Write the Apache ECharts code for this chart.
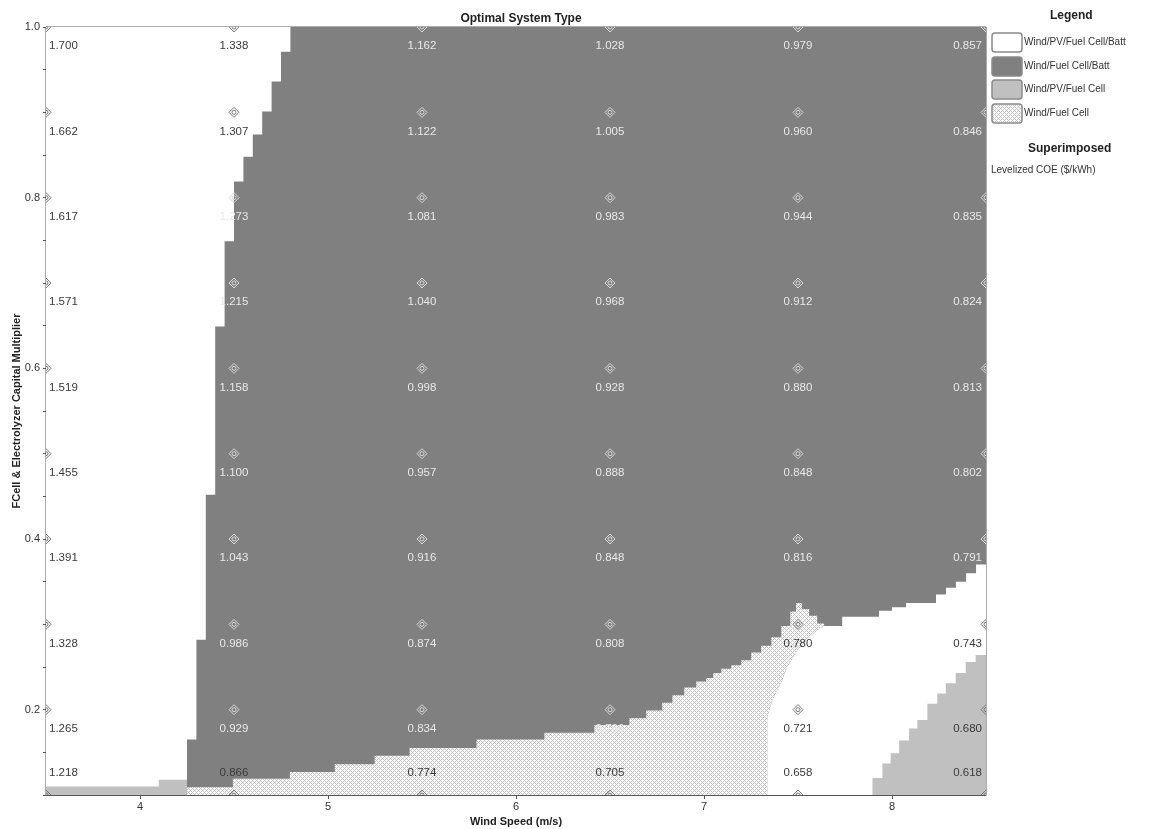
<!DOCTYPE html>
<html><head><meta charset="utf-8">
<script src="https://cdn.jsdelivr.net/npm/echarts@6/dist/echarts.min.js"></script>
<style>html,body{margin:0;padding:0;background:#fff}#c{width:1156px;height:829px}</style>
</head><body><div id="c"></div>
<script>
// ---------------- DATA ----------------
const windSpeeds = [3.5, 4.5, 5.5, 6.5, 7.5, 8.5];
const multipliers = [1.0, 0.9, 0.8, 0.7, 0.6, 0.5, 0.4, 0.3, 0.2, 0.1];
const xTickValues = [4, 5, 6, 7, 8];
const yLabelValues = [0.2, 0.4, 0.6, 0.8, 1.0];
const yTickValues = [0.1,0.15,0.2,0.25,0.3,0.35,0.4,0.45,0.5,0.55,0.6,0.65,0.7,0.75,0.8,0.85,0.9,0.95,1.0];

// Levelized COE ($/kWh) per wind speed column, multiplier 1.0 -> 0.1
const coe_3_5 = [1.700,1.662,1.617,1.571,1.519,1.455,1.391,1.328,1.265,1.218];
const coe_4_5 = [1.338,1.307,1.273,1.215,1.158,1.100,1.043,0.986,0.929,0.866];
const coe_5_5 = [1.162,1.122,1.081,1.040,0.998,0.957,0.916,0.874,0.834,0.774];
const coe_6_5 = [1.028,1.005,0.983,0.968,0.928,0.888,0.848,0.808,0.766,0.705];
const coe_7_5 = [0.979,0.960,0.944,0.912,0.880,0.848,0.816,0.780,0.721,0.658];
const coe_8_5 = [0.857,0.846,0.835,0.824,0.813,0.802,0.791,0.743,0.680,0.618];
// optimal type at each grid point (W = Wind/PV/FC/Batt, D = Wind/FC/Batt, L = Wind/PV/FC, H = Wind/FC)
const typeAtPoint = ['WWWWWWWWWW','WWDDDDDDDH','DDDDDDDDDH','DDDDDDDDDH','DDDDDDDHWW','DDDDDDDWLL'];

// Boundaries of the optimal-system-type regions
// left Wind/PV/FC/Batt region: [multiplier from, multiplier to, wind speed edge]
const leftWhiteEdge = [
  [0.100,0.165,4.25],[0.165,0.282,4.30],[0.282,0.452,4.35],[0.452,0.649,4.40],
  [0.649,0.749,4.45],[0.749,0.819,4.50],[0.819,0.848,4.55],[0.848,0.874,4.60],
  [0.874,0.901,4.65],[0.901,0.936,4.70],[0.936,0.971,4.75],[0.971,1.000,4.80]];
// bottom-left Wind/PV/FC strip: [wind from, top multiplier]
const leftLightSteps = [[3.5,0.110],[4.10,0.118]];
const leftLightEnd = 4.25;
// Wind/FC (hatched) region top: [wind from, top multiplier]
const fcTopSteps = [
  [4.250,0.109],[4.494,0.119],[4.797,0.127],[5.036,0.136],[5.248,0.146],[5.434,0.155],
  [5.790,0.165],[6.151,0.173],[6.417,0.182],[6.603,0.190],[6.693,0.199],[6.778,0.208],
  [6.832,0.217],[6.895,0.226],[6.959,0.233],[7.012,0.237],[7.049,0.243],[7.092,0.248],
  [7.145,0.252],[7.198,0.258],[7.251,0.267],[7.304,0.275],[7.358,0.285],[7.411,0.298],
  [7.459,0.315],[7.490,0.325],[7.522,0.318],[7.559,0.310],[7.602,0.301]];
const fcTopEnd = 7.639;
// Wind/FC right edge (top -> bottom): [wind, multiplier]
const fcRightEdge = [
  [7.639,0.299],[7.602,0.293],[7.559,0.285],[7.522,0.276],[7.490,0.268],[7.464,0.258],
  [7.443,0.250],[7.416,0.235],[7.389,0.223],[7.363,0.211],[7.347,0.200],[7.336,0.191],[7.336,0.100]];
// right Wind/PV/FC/Batt region top: [wind from, wind to, multiplier]
const rightWhiteTop = [
  [7.639,7.735,0.298],[7.735,7.931,0.309],[7.931,8.000,0.316],[8.000,8.075,0.320],
  [8.075,8.234,0.325],[8.234,8.287,0.335],[8.287,8.340,0.343],[8.340,8.394,0.350],
  [8.394,8.447,0.360],[8.447,8.500,0.370]];
// right Wind/PV/FC region top: [wind from, top multiplier]
const rightLightSteps = [
  [7.896,0.120],[7.949,0.137],[7.993,0.149],[8.038,0.164],[8.091,0.178],[8.135,0.188],
  [8.188,0.207],[8.241,0.219],[8.286,0.231],[8.339,0.243],[8.392,0.256],[8.445,0.264]];

const legendNames = ['Wind/PV/Fuel Cell/Batt','Wind/Fuel Cell/Batt','Wind/PV/Fuel Cell','Wind/Fuel Cell'];

// ---------------- BUILD ----------------
const X0 = 3.5, X1 = 8.5, Y0 = 0.1, Y1 = 1.0;
const C_WHITE = '#ffffff', C_DARK = '#808080', C_LIGHT = '#c0c0c0';

const pc = document.createElement('canvas'); pc.width = 4; pc.height = 4;
const pg = pc.getContext('2d'); pg.fillStyle = '#ffffff'; pg.fillRect(0,0,4,4);
pg.fillStyle = '#c4c4c4';
for (let i = 0; i < 4; i++) for (let j = 0; j < 4; j++) if ((i + j) % 4 === 0 || (i - j + 4) % 4 === 0) pg.fillRect(i, j, 1, 1);
const HATCH = { image: pc, repeat: 'repeat' };

function stairTop(steps, xEnd) {
  const pts = [];
  steps.forEach((s, i) => { const x1 = i + 1 < steps.length ? steps[i + 1][0] : xEnd; pts.push([s[0], s[1]], [x1, s[1]]); });
  return pts;
}
const polyDark = [[X0,Y0],[X1,Y0],[X1,Y1],[X0,Y1]];
const polyLeftWhite = [[X0,Y1],[X0,Y0]];
leftWhiteEdge.forEach(s => { polyLeftWhite.push([s[2], s[0]], [s[2], s[1]]); });
const polyLeftLight = [[X0,Y0]].concat(stairTop(leftLightSteps, leftLightEnd), [[leftLightEnd,Y0]]);
const polyFC = [[fcTopSteps[0][0],Y0]].concat(stairTop(fcTopSteps, fcTopEnd), fcRightEdge);
const polyRightWhite = [[fcRightEdge[fcRightEdge.length-1][0],Y0],[X1,Y0]];
rightWhiteTop.slice().reverse().forEach(s => { polyRightWhite.push([s[1], s[2]], [s[0], s[2]]); });
fcRightEdge.forEach(p => polyRightWhite.push(p));
const polyRightLight = [[rightLightSteps[0][0],Y0]].concat(stairTop(rightLightSteps, X1), [[X1,Y0]]);

function regionSeries(poly, fill, z) {
  return {
    type: 'custom', coordinateSystem: 'cartesian2d', silent: true, z: z, clip: true,
    data: [[poly[0][0], poly[0][1]]],
    renderItem: (params, api) => ({
      type: 'polygon', shape: { points: poly.map(p => api.coord(p)) },
      style: { fill: fill, stroke: null }
    })
  };
}

const coeCols = [coe_3_5, coe_4_5, coe_5_5, coe_6_5, coe_7_5, coe_8_5];
const pointData = [];
windSpeeds.forEach((x, ci) => multipliers.forEach((y, ri) => {
  pointData.push([x, y, coeCols[ci][ri], typeAtPoint[ci][ri], ci, ri]);
}));

const FONT = '"Liberation Sans", Arial, sans-serif';
const markerSeries = {
  type: 'custom', coordinateSystem: 'cartesian2d', silent: true, z: 10, clip: true,
  data: pointData,
  renderItem: (params, api) => {
    const x = api.value(0), y = api.value(1), v = api.value(2);
    const d = pointData[params.dataIndex];
    const t = d[3], ci = d[4], ri = d[5];
    const p = api.coord([x, y]);
    const dark = t === 'D';
    const mk = dark ? '#d8d8d8' : '#7c7c7c';
    const tc = dark ? '#e8e8e8' : '#3a3a3a';
    let align = 'center', tx = p[0];
    if (ci === 0) { align = 'left'; tx = p[0] + 3; }
    if (ci === windSpeeds.length - 1) { align = 'right'; tx = p[0] - 4; }
    const ty = ri === multipliers.length - 1 ? p[1] - 22 : p[1] + 19;
    const s = 5;
    return {
      type: 'group', children: [
        { type: 'polygon', shape: { points: [[p[0], p[1]-s],[p[0]+s, p[1]],[p[0], p[1]+s],[p[0]-s, p[1]]] },
          style: { fill: 'none', stroke: mk, lineWidth: 1 } },
        { type: 'circle', shape: { cx: p[0], cy: p[1], r: 2 }, style: { fill: 'none', stroke: mk, lineWidth: 1 } },
        { type: 'text', x: tx, y: ty, style: { text: v.toFixed(3), fill: tc, font: '11.5px ' + FONT, align: align, verticalAlign: 'middle' } }
      ]
    };
  }
};

// legend graphics
const legendGraphics = [
  { type: 'text', left: 1050, top: 10, style: { text: 'Legend', font: 'bold 12px ' + FONT, fill: '#222' } },
  { type: 'text', left: 1028, top: 143, style: { text: 'Superimposed', font: 'bold 12px ' + FONT, fill: '#222' } },
  { type: 'text', left: 991, top: 165, style: { text: 'Levelized COE ($/kWh)', font: '10px ' + FONT, fill: '#333' } }
];
const swFills = [C_WHITE, C_DARK, C_LIGHT, HATCH];
const swTops = [33, 57, 80, 104];
legendNames.forEach((n, i) => {
  legendGraphics.push({ type: 'rect', shape: { x: 992, y: swTops[i], width: 30, height: 19, r: 3 },
    style: { fill: swFills[i], stroke: '#8a8a8a', lineWidth: 1.5 } });
  legendGraphics.push({ type: 'text', left: 1024, top: swTops[i] + 4, style: { text: n, font: '10px ' + FONT, fill: '#333' } });
});

const chart = echarts.init(document.getElementById('c'), null, { renderer: 'canvas' });
chart.setOption({
  animation: false,
  backgroundColor: '#ffffff',
  title: { text: 'Optimal System Type', left: 516, top: 8, textAlign: 'center',
    textStyle: { fontFamily: FONT, fontSize: 12, fontWeight: 'bold', color: '#222' } },
  grid: { left: 46, right: 170, top: 27, bottom: 34, show: true, borderColor: '#5a5a5a', borderWidth: 1,
    containLabel: false, outerBoundsMode: 'none' },
  xAxis: {
    type: 'value', min: X0, max: X1,
    name: 'Wind Speed (m/s)', nameLocation: 'middle', nameGap: 17,
    nameTextStyle: { fontFamily: FONT, fontSize: 11, fontWeight: 'bold', color: '#222' },
    axisLine: { show: true, lineStyle: { color: '#555' } },
    axisTick: { show: true, length: 4, customValues: xTickValues, lineStyle: { color: '#555' } },
    axisLabel: { customValues: xTickValues, fontFamily: FONT, fontSize: 11, color: '#333', margin: 6 },
    splitLine: { show: false }
  },
  yAxis: {
    type: 'value', min: Y0, max: Y1,
    name: 'FCell & Electrolyzer Capital Multiplier', nameLocation: 'middle', nameGap: 24,
    nameMoveOverlap: false,
    nameTextStyle: { fontFamily: FONT, fontSize: 11, fontWeight: 'bold', color: '#222' },
    axisLine: { show: true, lineStyle: { color: '#555' } },
    axisTick: { show: true, length: 3, customValues: yTickValues, lineStyle: { color: '#555' } },
    axisLabel: { customValues: yLabelValues, formatter: v => v.toFixed(1), fontFamily: FONT, fontSize: 11, color: '#333', margin: 6 },
    splitLine: { show: false }
  },
  graphic: legendGraphics,
  series: [
    regionSeries(polyDark, C_DARK, 1),
    regionSeries(polyLeftWhite, C_WHITE, 2),
    regionSeries(polyRightWhite, C_WHITE, 2),
    regionSeries(polyFC, HATCH, 3),
    regionSeries(polyLeftLight, C_LIGHT, 4),
    regionSeries(polyRightLight, C_LIGHT, 4),
    markerSeries
  ]
});
</script></body></html>
